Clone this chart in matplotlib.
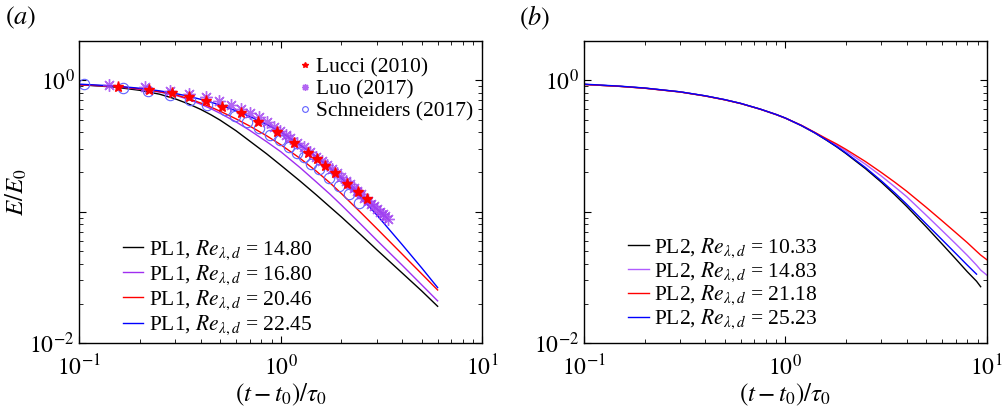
import numpy as np
import matplotlib
matplotlib.use("Agg")
import matplotlib.pyplot as plt

plt.rcParams['font.family'] = 'serif'
plt.rcParams['font.serif'] = ['Liberation Serif', 'DejaVu Serif']
plt.rcParams['mathtext.fontset'] = 'stix'

# ---- panel (a): PL1 model curves ----
t_a = [0.1, 0.15, 0.2, 0.25, 0.3, 0.35, 0.4, 0.45, 0.5, 0.6, 0.7, 0.85, 1.0, 1.25, 1.5,
       1.76, 2.0, 2.5, 3.0, 4.0, 5.0, 6.0]
pl1_1480 = [0.92, 0.883, 0.834, 0.78, 0.718, 0.656, 0.598, 0.544, 0.495, 0.411, 0.344, 0.275,
            0.225, 0.17, 0.134, 0.108, 0.091, 0.0665, 0.0512, 0.0342, 0.025, 0.0191]
pl1_1680 = [0.92, 0.893, 0.85, 0.81, 0.765, 0.71, 0.655, 0.605, 0.558, 0.48, 0.415, 0.34,
            0.285, 0.215, 0.168, 0.135, 0.112, 0.08, 0.0605, 0.0392, 0.0278, 0.021]
pl1_2046 = [0.92, 0.895, 0.855, 0.815, 0.772, 0.72, 0.669, 0.622, 0.579, 0.506, 0.447, 0.377,
            0.322, 0.253, 0.203, 0.1645, 0.137, 0.098, 0.0742, 0.0476, 0.0337, 0.0254]
pl1_2245 = [0.93, 0.90, 0.865, 0.827, 0.789, 0.751, 0.713, 0.678, 0.644, 0.583, 0.529, 0.46,
            0.403, 0.32, 0.262, 0.213, 0.179, 0.128, 0.094, 0.0562, 0.0374, 0.0265]

# ---- panel (a): reference data ----
lucci_t = [0.155, 0.222, 0.29, 0.352, 0.427, 0.51, 0.634, 0.767, 0.957, 1.16, 1.37, 1.51,
           1.66, 1.85, 2.13, 2.41, 2.68]
lucci_e = [0.879, 0.835, 0.792, 0.747, 0.696, 0.627, 0.558, 0.48, 0.40, 0.333, 0.28, 0.249,
           0.223, 0.195, 0.162, 0.14, 0.124]

luo_t = [0.141, 0.213, 0.283, 0.352, 0.425, 0.495, 0.568, 0.638, 0.706, 0.776, 0.855, 0.929,
         0.995, 1.057, 1.115, 1.2, 1.3, 1.4, 1.5, 1.6, 1.7, 1.8, 1.9, 2.0, 2.1, 2.2, 2.3,
         2.4, 2.5, 2.6, 2.7, 2.8, 2.9, 3.0, 3.1, 3.2, 3.3, 3.4]
luo_e = [0.916, 0.88, 0.83, 0.783, 0.738, 0.692, 0.642, 0.598, 0.564, 0.52, 0.48, 0.442,
         0.409, 0.384, 0.364, 0.335, 0.307, 0.283, 0.262, 0.244, 0.228, 0.212, 0.197, 0.184,
         0.172, 0.161, 0.151, 0.143, 0.135, 0.128, 0.121, 0.115, 0.110, 0.105, 0.100, 0.096,
         0.092, 0.088]

schn_t = [0.105, 0.165, 0.22, 0.283, 0.356, 0.43, 0.53, 0.594, 0.679, 0.776, 0.887, 0.995,
          1.094, 1.2, 1.3, 1.41, 1.54, 1.73, 1.94, 2.17, 2.43]
schn_e = [0.932, 0.865, 0.82, 0.77, 0.705, 0.64, 0.59, 0.532, 0.482, 0.43, 0.382, 0.35,
          0.308, 0.28, 0.258, 0.23, 0.209, 0.179, 0.156, 0.136, 0.116]

# ---- panel (b): PL2 model curves ----
t_b = [0.1, 0.15, 0.2, 0.3, 0.4, 0.5, 0.6, 0.75, 0.9, 1.0, 1.2, 1.4, 1.6, 1.8, 2.0, 2.5,
       3.0, 3.5, 4.0, 5.0, 6.0, 7.0, 8.0, 8.9, 9.33, 10.0]
pl2_1033 = [0.925, 0.895, 0.867, 0.812, 0.757, 0.708, 0.663, 0.600, 0.546, 0.513, 0.450, 0.396,
            0.349, 0.310, 0.276, 0.212, 0.167, 0.134, 0.1097, 0.0768, 0.0568, 0.0439, 0.035,
            0.0296, 0.0269, np.nan]
pl2_1483 = [0.925, 0.895, 0.867, 0.812, 0.757, 0.708, 0.663, 0.600, 0.546, 0.513, 0.452, 0.398,
            0.354, 0.319, 0.289, 0.229, 0.186, 0.154, 0.130, 0.094, 0.0718, 0.0571, 0.0466,
            0.0392, 0.036, 0.033]
pl2_2118 = [0.925, 0.894, 0.865, 0.81, 0.755, 0.706, 0.662, 0.600, 0.546, 0.513, 0.453, 0.40,
            0.358, 0.326, 0.297, 0.240, 0.198, 0.167, 0.143, 0.108, 0.0852, 0.0695, 0.0582,
            0.05, 0.0468, 0.0432]
pl2_2523 = [0.93, 0.898, 0.869, 0.813, 0.758, 0.709, 0.664, 0.601, 0.547, 0.514, 0.451, 0.397,
            0.350, 0.312, 0.279, 0.216, 0.171, 0.1385, 0.114, 0.0808, 0.0612, 0.0483, 0.0393,
            0.0335, np.nan, np.nan]

purple = '#a02ef0'
purple_b = '#b05cff'

fig = plt.figure(figsize=(10.04, 4.08), dpi=100)
ax1 = fig.add_axes([0.079, 0.1586, 0.4014, 0.7397])
ax2 = fig.add_axes([0.5817, 0.1586, 0.4011, 0.7397])

l1, = ax1.plot(t_a, pl1_1480, color='black', lw=1.0)
l2, = ax1.plot(t_a, pl1_1680, color=purple, lw=1.0)
l3, = ax1.plot(t_a, pl1_2046, color='red', lw=1.0)
l4, = ax1.plot(t_a, pl1_2245, color='blue', lw=1.0)

m3, = ax1.plot(schn_t, schn_e, 'o', mfc='none', mec='#6060ff', ms=7.5, mew=0.8, ls='none')
m2, = ax1.plot(luo_t, luo_e, ls='none', marker=(8, 2, 0), color='#a040f0', ms=9, mew=1.0,
               alpha=0.8)
m1, = ax1.plot(lucci_t, lucci_e, '*', color='red', ms=8, ls='none')

leg1 = ax1.legend([l1, l2, l3, l4],
                  [r'PL1, $Re_{\lambda,d}$ = 14.80', r'PL1, $Re_{\lambda,d}$ = 16.80',
                   r'PL1, $Re_{\lambda,d}$ = 20.46', r'PL1, $Re_{\lambda,d}$ = 22.45'],
                  loc='lower left', bbox_to_anchor=(0.071, -0.03), frameon=False,
                  fontsize=15.5, handlelength=0.95, handletextpad=0.25, labelspacing=0.08,
                  borderpad=0.2)
ax1.add_artist(leg1)
ax1.legend([m1, m2, m3], ['Lucci (2010)', 'Luo (2017)', 'Schneiders (2017)'],
           loc='upper right', bbox_to_anchor=(1.015, 0.998), frameon=False, fontsize=15.5,
           markerscale=0.55, handlelength=0.5, handletextpad=0.25, labelspacing=0.1,
           borderpad=0.2)

n1, = ax2.plot(t_b, pl2_1033, color='black', lw=1.0)
n2, = ax2.plot(t_b, pl2_1483, color=purple_b, lw=1.0)
n3, = ax2.plot(t_b, pl2_2118, color='red', lw=1.0)
n4, = ax2.plot(t_b, pl2_2523, color='blue', lw=1.0)
ax2.legend([n1, n2, n3, n4],
           [r'PL2, $Re_{\lambda,d}$ = 10.33', r'PL2, $Re_{\lambda,d}$ = 14.83',
            r'PL2, $Re_{\lambda,d}$ = 21.18', r'PL2, $Re_{\lambda,d}$ = 25.23'],
           loc='lower left', bbox_to_anchor=(0.073, -0.01), frameon=False, fontsize=15.5,
           handlelength=0.95, handletextpad=0.25, labelspacing=0.02, borderpad=0.2)

for ax in [ax1, ax2]:
    ax.set_xscale('log')
    ax.set_yscale('log')
    ax.set_xlim(0.1, 10)
    ax.set_ylim(0.01, 1.96)
    ax.set_xticks([0.1, 1, 10])
    ax.set_xticklabels([r'$10^{-1}$', r'$10^{0}$', r'$10^{1}$'])
    ax.set_yticks([0.01, 0.1, 1])
    ax.set_yticklabels([r'$10^{-2}$', '', r'$10^{0}$'])
    ax.tick_params(which='both', direction='in', top=True, right=True, labelsize=17)
    ax.tick_params(axis='x', which='major', pad=8)
    ax.tick_params(which='major', length=5)
    ax.tick_params(which='minor', length=3)
    ax.set_xlabel(r'$(t-t_0)/\tau_0$', fontsize=18, labelpad=1)
    for s in ax.spines.values():
        s.set_linewidth(1.0)

ax1.set_ylabel(r'$E/E_0$', fontsize=18, labelpad=0)
fig.text(0.005, 0.955, r'$(a)$', fontsize=19, va='center')
fig.text(0.517, 0.955, r'$(b)$', fontsize=19, va='center')

fig.savefig('out.png', dpi=100)
